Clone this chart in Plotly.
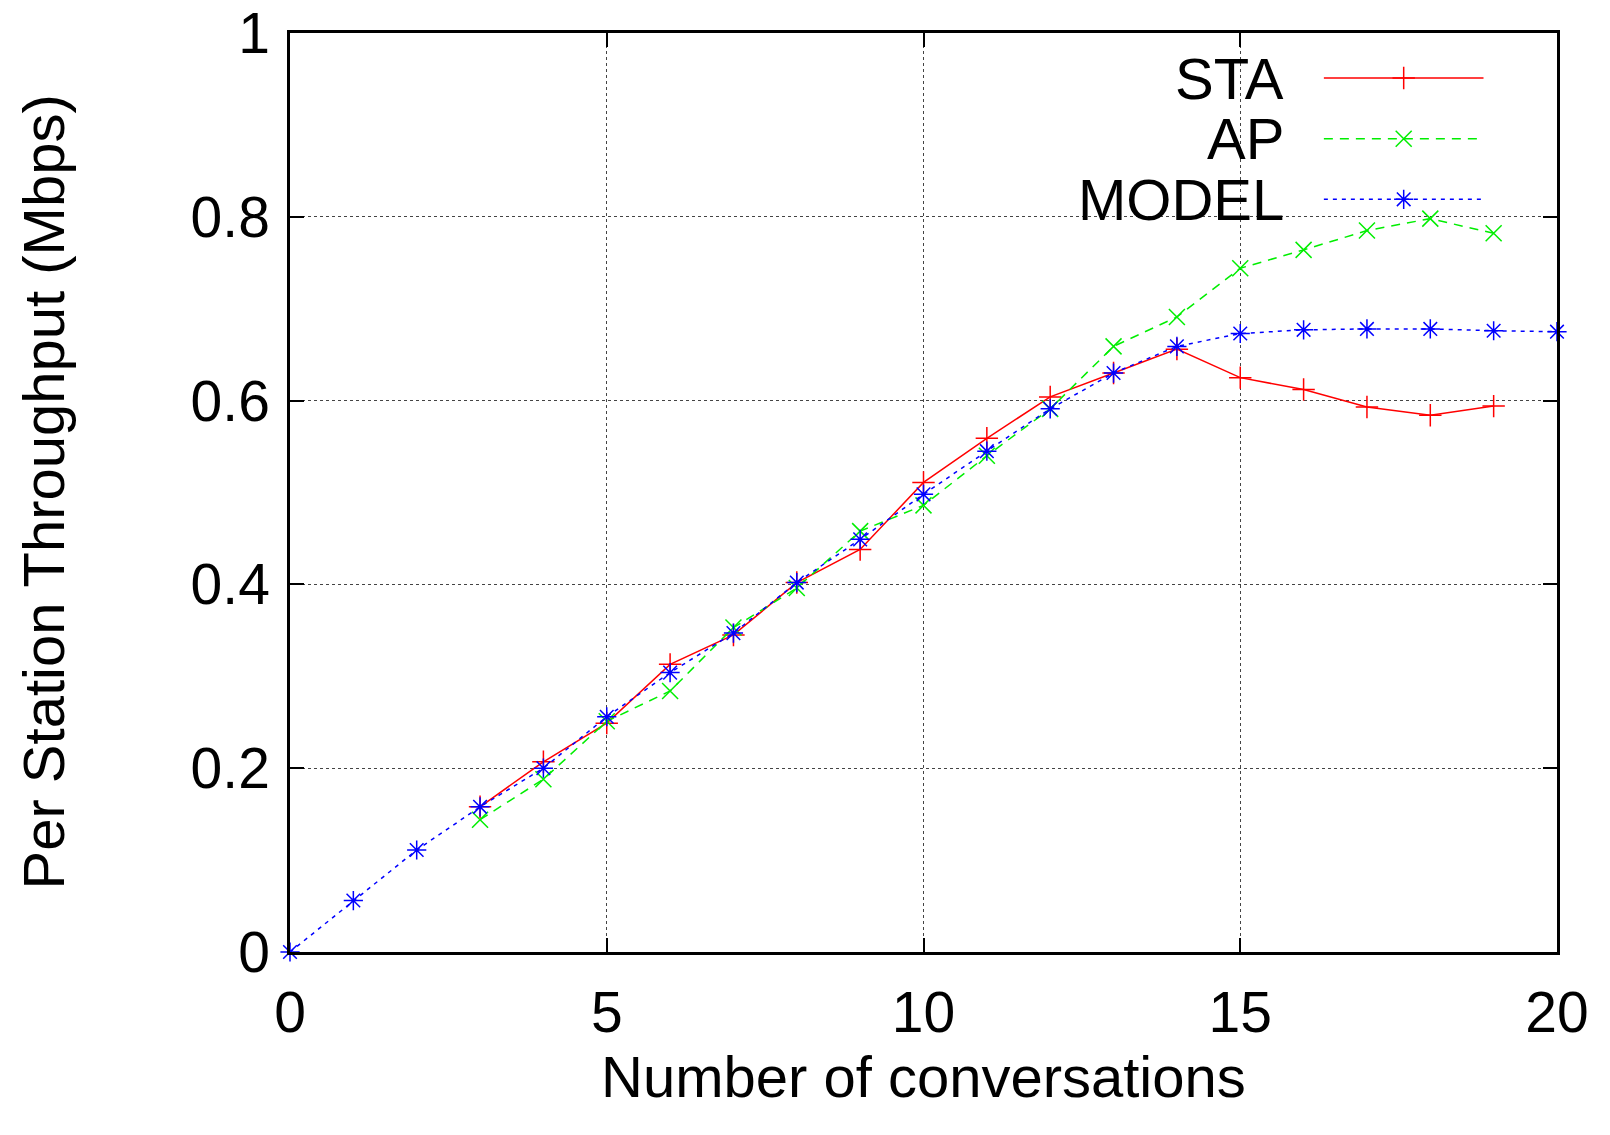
import plotly.graph_objects as go

x_model = [0, 1, 2, 3, 4, 5, 6, 7, 8, 9, 10, 11, 12, 13, 14, 15, 16, 17, 18, 19, 20]
y_model = [0.0, 0.056, 0.111, 0.158, 0.200, 0.256, 0.304, 0.347, 0.402, 0.449, 0.498,
           0.545, 0.591, 0.630, 0.659, 0.673, 0.677, 0.678, 0.678, 0.676, 0.675]

x_sta = [3, 4, 5, 6, 7, 8, 9, 10, 11, 12, 13, 14, 15, 16, 17, 18, 19]
y_sta = [0.158, 0.207, 0.249, 0.313, 0.345, 0.402, 0.438, 0.511, 0.559, 0.604, 0.630,
         0.656, 0.625, 0.612, 0.593, 0.584, 0.594]

x_ap = [3, 4, 5, 6, 7, 8, 9, 10, 11, 12, 13, 14, 15, 16, 17, 18, 19]
y_ap = [0.144, 0.188, 0.251, 0.284, 0.353, 0.396, 0.458, 0.486, 0.540, 0.591, 0.659,
        0.691, 0.744, 0.764, 0.785, 0.798, 0.782]

x_ticks = [0, 5, 10, 15, 20]
y_ticks = [0, 0.2, 0.4, 0.6, 0.8, 1]
y_tick_text = ["0", "0.2", "0.4", "0.6", "0.8", "1"]

series = [
    ("STA", x_sta, y_sta, "#ff0000", "solid", "cross-thin-open"),
    ("AP", x_ap, y_ap, "#00ee00", "9px,7px", "x-thin-open"),
    ("MODEL", x_model, y_model, "#0000ff", "4px,5px", "asterisk-open"),
]

FONT = "Liberation Sans, Arial, Helvetica, sans-serif"

fig = go.Figure()
for name, xs, ys, col, dash, sym in series:
    fig.add_trace(go.Scatter(
        x=xs, y=ys, mode="lines+markers", name=name,
        line=dict(color=col, width=1.5, dash=dash),
        marker=dict(symbol=sym, size=16, color=col, line=dict(color=col, width=1.5)),
        cliponaxis=False, showlegend=False,
    ))

# custom gnuplot-style legend (key on overlay axes in 0..1 units)
leg_y = [0.951, 0.885, 0.819]
leg_x0, leg_x1, leg_xm, leg_text_x = 0.816, 0.942, 0.879, 0.786
for (name, xs, ys, col, dash, sym), ly in zip(series, leg_y):
    fig.add_trace(go.Scatter(
        x=[leg_x0, leg_x1], y=[ly, ly], mode="lines",
        line=dict(color=col, width=1.5, dash=dash),
        xaxis="x2", yaxis="y2", showlegend=False, hoverinfo="skip"))
    fig.add_trace(go.Scatter(
        x=[leg_xm], y=[ly], mode="markers",
        marker=dict(symbol=sym, size=16, color=col, line=dict(color=col, width=1.5)),
        xaxis="x2", yaxis="y2", showlegend=False, hoverinfo="skip"))
    fig.add_annotation(x=leg_text_x, y=ly, xref="x2", yref="y2", text=name,
                       xanchor="right", yanchor="middle", showarrow=False,
                       font=dict(family=FONT, size=58, color="black"))

axis_common = dict(
    showline=True, linecolor="black", linewidth=2.5, mirror="ticks",
    ticks="inside", ticklen=14, tickwidth=2, tickcolor="black",
    showgrid=True, gridcolor="#444444", gridwidth=1, griddash="dot",
    zeroline=False, tickfont=dict(family=FONT, size=57, color="black"),
    ticklabeloverflow="allow", automargin=False,
)

fig.update_layout(
    width=1594, height=1119,
    margin=dict(l=282, r=45, t=25, b=175, autoexpand=False),
    paper_bgcolor="white", plot_bgcolor="white",
    xaxis=dict(range=[0, 20], tickvals=x_ticks, ticklabelstandoff=9, **axis_common),
    yaxis=dict(range=[0, 1], tickvals=y_ticks, ticktext=y_tick_text, ticklabelstandoff=6, **axis_common),
    xaxis2=dict(range=[0, 1], overlaying="x", visible=False, anchor="y2"),
    yaxis2=dict(range=[0, 1], overlaying="y", visible=False, anchor="x2"),
    font=dict(family=FONT, color="black"),
)

fig.add_annotation(x=0.5, y=0, xref="paper", yref="paper", yshift=-124,
                   text="Number of conversations", showarrow=False,
                   xanchor="center", yanchor="middle",
                   font=dict(family=FONT, size=58, color="black"))
fig.add_annotation(x=0, y=0.5, xref="paper", yref="paper", xshift=-247,
                   text="Per Station Throughput (Mbps)", showarrow=False, textangle=-90,
                   xanchor="center", yanchor="middle",
                   font=dict(family=FONT, size=58, color="black"))

fig.write_html("out.html")
